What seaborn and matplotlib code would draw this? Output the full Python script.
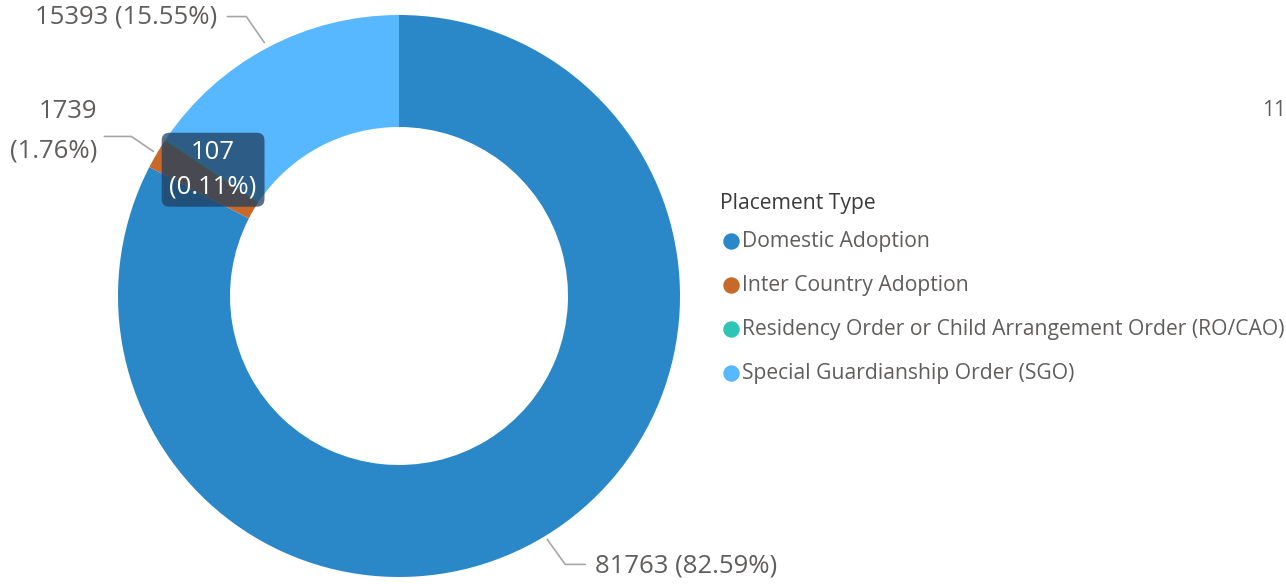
import numpy as np
import matplotlib
matplotlib.use("Agg")
import matplotlib.pyplot as plt
import seaborn as sns

# data
categories = ["Domestic Adoption", "Inter Country Adoption",
              "Residency Order or Child Arrangement Order (RO/CAO)",
              "Special Guardianship Order (SGO)"]
counts = [81763, 1739, 107, 15393]
colors = ["#2A87C8", "#C8692A", "#2EC4B6", "#57B8FF"]

sns.set_theme(style="white")
plt.rcParams['font.family'] = ['Open Sans', 'DejaVu Sans']

W, H = 1286, 584
fig = plt.figure(figsize=(W / 100, H / 100), dpi=100)
ax = fig.add_axes([0, 0, 1, 1])

def Y(y):
    return H - y

cx, cy, R, r_in = 399, Y(296), 281, 169
wedges, _ = ax.pie(counts, colors=colors, startangle=90, counterclock=False,
                   radius=R, center=(cx, cy),
                   wedgeprops=dict(width=R - r_in, linewidth=0))
ax.set_xlim(0, W)
ax.set_ylim(0, H)
ax.set_aspect('equal')
ax.axis('off')

total = sum(counts)
pcts = [c / total * 100 for c in counts]
txt = "#605E5C"
line_c = "#A6A6A6"
lab_fs = 18.5

def anchor(w, rad):
    a = np.deg2rad((w.theta1 + w.theta2) / 2)
    return cx + rad * np.cos(a), cy + rad * np.sin(a)

# Domestic Adoption label (bottom)
ax0, ay0 = anchor(wedges[0], R + 4)
ax.plot([ax0, ax0 + 18, ax0 + 38], [ay0, ay0 - 25, ay0 - 25], color=line_c, lw=1.2)
ax.text(ax0 + 48, ay0 - 27, f"{counts[0]} ({pcts[0]:.2f}%)", color=txt, fontsize=lab_fs,
        ha='left', va='center')

# Inter Country label (left)
ax1, ay1 = anchor(wedges[1], R + 4)
ax.plot([ax1, ax1 - 22, ax1 - 49], [ay1, ay1 + 15, ay1 + 15], color=line_c, lw=1.2)
ax.text(ax1 - 56, ay1 + 20, f"{counts[1]}\n({pcts[1]:.2f}%)", color=txt, fontsize=lab_fs,
        ha='right', va='center', linespacing=1.75)

# SGO label (top)
ax3, ay3 = anchor(wedges[3], R + 6)
ax.plot([ax3, ax3 - 18, ax3 - 37], [ay3, ay3 + 26, ay3 + 26], color=line_c, lw=1.2)
ax.text(ax3 - 47, ay3 + 26, f"{counts[3]} ({pcts[3]:.2f}%)", color=txt, fontsize=lab_fs,
        ha='right', va='center')

# RO/CAO label inside the ring, highlighted box
bx, by = anchor(wedges[2], (R + r_in) / 2)
ax.text(bx + 1, by + 1, f"{counts[2]}\n({pcts[2]:.2f}%)", color="white", fontsize=lab_fs,
        ha='center', va='center', linespacing=1.45,
        bbox=dict(boxstyle="round,pad=0.3,rounding_size=0.3", fc="#1F3F5F", ec="none", alpha=0.75))

# legend
lx, ly0, step = 731, 241, 44
leg_fs = 15.2
ax.text(720, Y(204), "Placement Type", color="#3B3B3B", fontsize=leg_fs, ha='left', va='center')
for i, (name, col) in enumerate(zip(categories, colors)):
    yy = Y(ly0 + i * step)
    ax.scatter([lx], [yy], s=140, color=col, linewidths=0)
    ax.text(lx + 11, yy, name, color=txt, fontsize=leg_fs, ha='left', va='center')

# label at the far right edge
ax.text(1262, Y(110), "11", color=txt, fontsize=15, ha='left', va='center')

fig.savefig("out.png", dpi=100)
